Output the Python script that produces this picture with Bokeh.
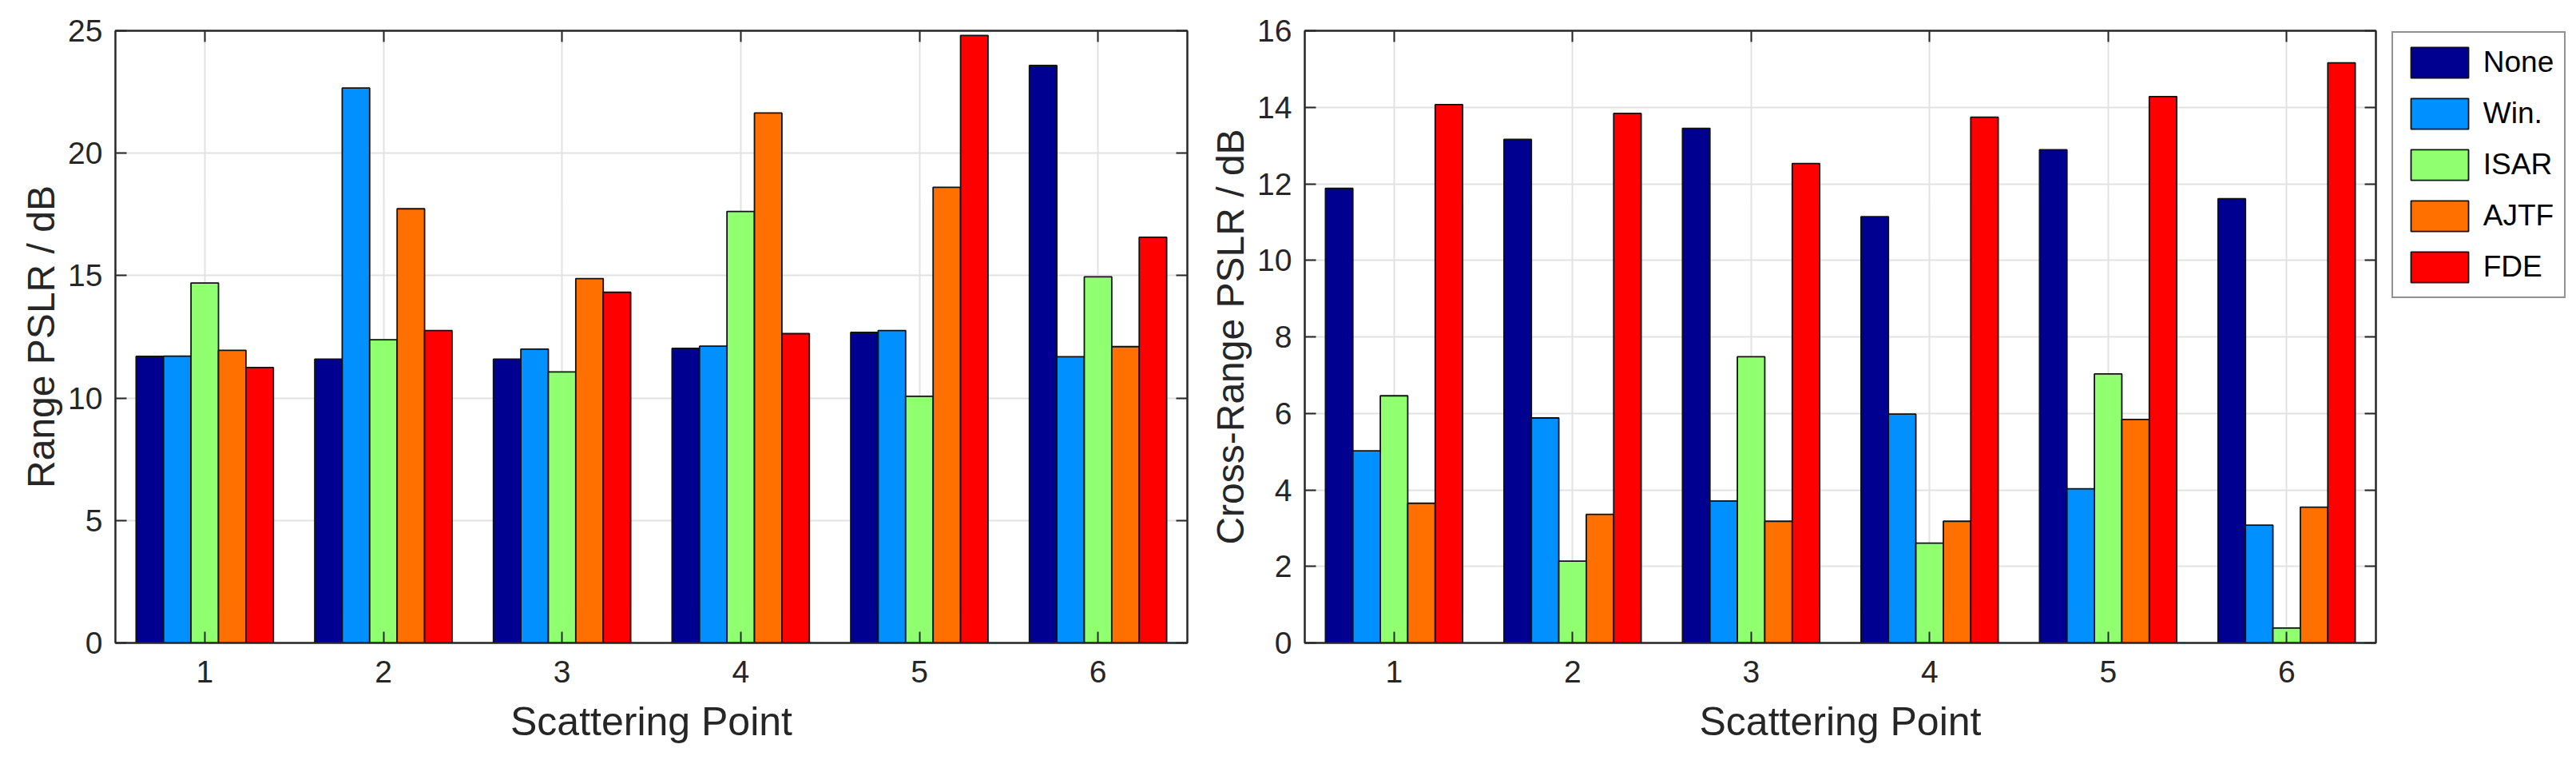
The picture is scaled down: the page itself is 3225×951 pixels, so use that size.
from bokeh.plotting import figure
from bokeh.models import (Range1d, FixedTicker, LinearAxis, Legend, LegendItem)
from bokeh.layouts import row
from bokeh.embed import file_html
from bokeh.resources import INLINE

# ---------------- data ----------------
points = [1, 2, 3, 4, 5, 6]
methods = ["None", "Win.", "ISAR", "AJTF", "FDE"]
colors = ["#000090", "#0090FF", "#90FF70", "#FF7000", "#FF0000"]

range_none = [11.70, 11.59, 11.59, 12.03, 12.68, 23.58]
range_win = [11.71, 22.66, 12.00, 12.12, 12.76, 11.69]
range_isar = [14.70, 12.38, 11.07, 17.62, 10.07, 14.95]
range_ajtf = [11.95, 17.73, 14.88, 21.64, 18.61, 12.10]
range_fde = [11.25, 12.76, 14.32, 12.63, 24.81, 16.57]

cross_none = [11.88, 13.16, 13.45, 11.14, 12.89, 11.61]
cross_win = [5.02, 5.88, 3.71, 5.98, 4.03, 3.08]
cross_isar = [6.46, 2.14, 7.48, 2.61, 7.03, 0.39]
cross_ajtf = [3.65, 3.36, 3.18, 3.18, 5.84, 3.55]
cross_fde = [14.07, 13.84, 12.53, 13.74, 14.28, 15.16]

range_ticks = [0, 5, 10, 15, 20, 25]
cross_ticks = [0, 2, 4, 6, 8, 10, 12, 14, 16]

FONT = "Liberation Sans"
AX = "#262626"
BAR_W = 0.1537
EDGE = "#111111"


def make_fig(series, ymax, yticks, ylabel, fw, mbl, mbr, right_gap):
    p = figure(frame_width=fw, frame_height=766, output_backend="svg",
               toolbar_location=None, x_range=Range1d(0.5, 6.5),
               y_range=Range1d(0, ymax),
               min_border_left=mbl, min_border_right=mbr,
               min_border_top=38, min_border_bottom=100,
               background_fill_color="white", border_fill_color="white")
    p.outline_line_color = AX
    p.outline_line_width = 2
    renderers = []
    for i, vals in enumerate(series):
        xs = [pt + (i - 2) * BAR_W for pt in points]
        r = p.vbar(x=xs, top=vals, bottom=0, width=BAR_W,
                   fill_color=colors[i], line_color=EDGE, line_width=1.8)
        renderers.append(r)
    # main axes
    p.xaxis.ticker = FixedTicker(ticks=points)
    p.yaxis.ticker = FixedTicker(ticks=yticks)
    for ax in (p.xaxis[0], p.yaxis[0]):
        ax.major_tick_in = 14
        ax.major_tick_out = 0
        ax.minor_tick_line_color = None
        ax.axis_line_color = AX
        ax.axis_line_width = 2
        ax.major_tick_line_color = AX
        ax.major_tick_line_width = 2
        ax.major_label_text_font = FONT
        ax.major_label_text_font_size = "39px"
        ax.major_label_text_color = AX
        ax.axis_label_text_font = FONT
        ax.axis_label_text_font_style = "normal"
        ax.axis_label_text_color = AX
    p.xaxis.axis_label_text_font_size = "50px"
    p.yaxis.axis_label_text_font_size = "48px"
    p.xaxis.axis_label = "Scattering Point"
    p.yaxis.axis_label = ylabel
    p.xaxis.major_label_standoff = 22
    p.yaxis.major_label_standoff = 16
    p.xaxis.axis_label_standoff = 18
    p.yaxis.axis_label_standoff = 4
    # box ticks on top and right (no labels)
    top = LinearAxis(ticker=FixedTicker(ticks=points))
    right = LinearAxis(ticker=FixedTicker(ticks=yticks))
    for ax in (top, right):
        ax.major_tick_in = 14
        ax.major_tick_out = 0
        ax.minor_tick_line_color = None
        ax.axis_line_color = AX
        ax.axis_line_width = 2
        ax.major_tick_line_color = AX
        ax.major_tick_line_width = 2
        ax.major_label_text_color = None
        ax.major_label_text_font_size = "4px"
        ax.major_label_standoff = 0
    right.major_label_standoff = right_gap
    p.add_layout(top, "above")
    p.add_layout(right, "right")
    # grid
    p.xgrid.ticker = FixedTicker(ticks=points)
    p.ygrid.ticker = FixedTicker(ticks=yticks)
    for g in (p.xgrid[0], p.ygrid[0]):
        g.grid_line_color = "#e2e2e2"
        g.grid_line_width = 2
    return p, renderers


p1, _ = make_fig([range_none, range_win, range_isar, range_ajtf, range_fde],
                 25, range_ticks, "Range PSLR / dB", 1342, 144, 14, 0)
p2, rs = make_fig([cross_none, cross_win, cross_isar, cross_ajtf, cross_fde],
                  16, cross_ticks, "Cross-Range PSLR / dB", 1341, 133, 10, 15)

legend = Legend(items=[LegendItem(label=m, renderers=[r]) for m, r in zip(methods, rs)],
                location=(-186, 431))
legend.glyph_width = 90
legend.glyph_height = 48
legend.spacing = 16
legend.padding = 13
legend.margin = 1
legend.label_standoff = 10
legend.label_text_font = FONT
legend.label_text_font_size = "37px"
legend.label_text_color = "black"
legend.border_line_color = AX
legend.border_line_width = 2
legend.background_fill_color = "white"
legend.background_fill_alpha = 1.0
p2.add_layout(legend, "right")

layout = row(p1, p2, spacing=0)

open("out.html", "w").write(file_html(layout, INLINE))
